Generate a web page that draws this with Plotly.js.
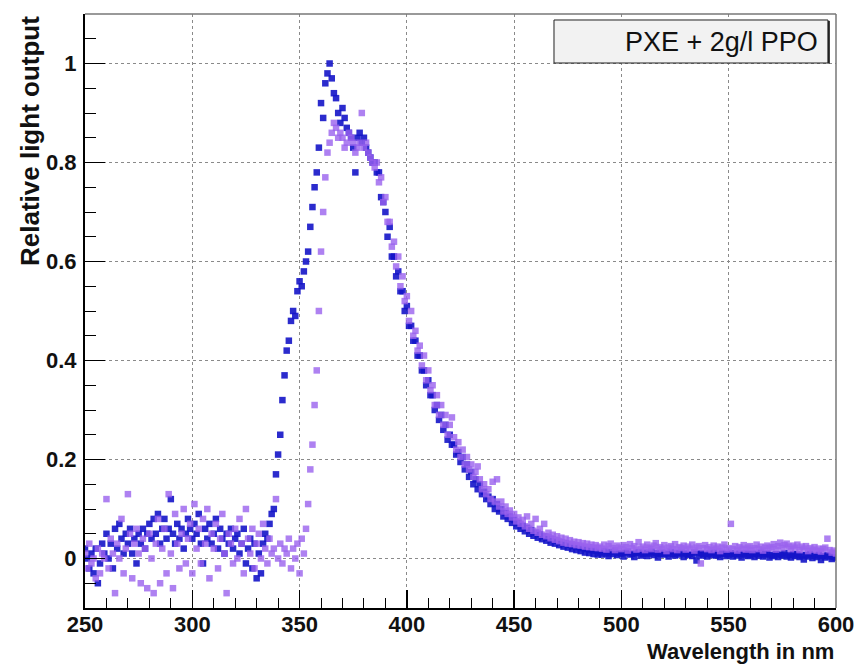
<!DOCTYPE html>
<html>
<head>
<meta charset="utf-8">
<script src="https://cdn.plot.ly/plotly-3.0.1.min.js"></script>
<style>html,body{margin:0;padding:0;background:#fff;}#chart{width:859px;height:667px;}</style>
</head>
<body>
<div id="chart"></div>
<script>
// Wavelength sampling grid (nm): start and step of the measured spectra
const wavelengthStart = 250;
const wavelengthStep = 1;

// Series A (blue): relative light output, one value per nm from 250 to 600
const blueValues = [
  0.02, 0.00, -0.02, 0.01, -0.03, 0.02, -0.05, -0.01, 0.03, 0.01,
  0.05, 0.00, 0.03, -0.02, 0.06, 0.02, 0.07, 0.04, 0.01, 0.05,
  0.03, 0.06, 0.01, 0.04, -0.01, 0.05, 0.03, 0.06, 0.02, 0.05,
  0.07, 0.04, 0.08, 0.05, 0.09, 0.03, 0.06, 0.08, 0.04, 0.06,
  0.12, 0.05, 0.03, 0.07, 0.04, 0.06, 0.02, 0.05, 0.08, 0.06,
  0.04, 0.07, 0.05, 0.09, 0.03, -0.01, 0.06, 0.04, 0.07, 0.03,
  0.05, 0.08, 0.02, 0.06, 0.04, 0.01, 0.05, 0.03, 0.06, 0.02,
  0.04, 0.05, 0.01, 0.03, 0.06, -0.01, 0.02, 0.04, -0.02, 0.03,
  -0.04, 0.01, -0.03, 0.03, 0.05, 0.04, 0.07, 0.09, 0.10, 0.17,
  0.21, 0.25, 0.32, 0.37, 0.42, 0.44, 0.48, 0.50, 0.49, 0.54,
  0.56, 0.55, 0.58, 0.60, 0.62, 0.67, 0.71, 0.75, 0.78, 0.83,
  0.92, 0.89, 0.96, 0.98, 1.00, 0.97, 0.94, 0.93, 0.90, 0.88,
  0.91, 0.89, 0.87, 0.86, 0.85, 0.83, 0.78, 0.85, 0.86, 0.84,
  0.85, 0.83, 0.82, 0.81, 0.80, 0.80, 0.78, 0.78, 0.73, 0.72,
  0.70, 0.65, 0.67, 0.61, 0.61, 0.57, 0.58, 0.54, 0.54, 0.50,
  0.51, 0.47, 0.47, 0.44, 0.44, 0.41, 0.41, 0.38, 0.38, 0.35,
  0.36, 0.33, 0.33, 0.30, 0.31, 0.28, 0.29, 0.26, 0.27, 0.24,
  0.25, 0.23, 0.23, 0.21, 0.215, 0.195, 0.205, 0.18, 0.19, 0.165,
  0.175, 0.15, 0.16, 0.14, 0.15, 0.13, 0.135, 0.12, 0.125, 0.11,
  0.12, 0.10, 0.11, 0.095, 0.10, 0.085, 0.092, 0.08, 0.085, 0.072,
  0.078, 0.065, 0.072, 0.06, 0.066, 0.055, 0.062, 0.05, 0.057, 0.046,
  0.052, 0.042, 0.049, 0.039, 0.045, 0.036, 0.042, 0.032, 0.039, 0.03,
  0.036, 0.027, 0.033, 0.024, 0.031, 0.022, 0.028, 0.019, 0.025, 0.017,
  0.023, 0.015, 0.021, 0.012, 0.019, 0.011, 0.017, 0.009, 0.016, 0.008,
  0.012, 0.008, 0.015, 0.010, 0.005, 0.013, 0.009, 0.016, 0.007, 0.011,
  0.010, 0.004, 0.012, 0.014, 0.008, 0.010, 0.003, 0.011, 0.013, 0.006,
  0.009, 0.012, 0.005, 0.010, 0.014, 0.007, 0.011, 0.002, 0.009, 0.012,
  0.008, 0.010, 0.004, 0.013, 0.009, 0.006, 0.011, 0.008, 0.012, 0.003,
  0.010, 0.007, 0.009, 0.005, 0.012, -0.004, 0.008, 0.011, 0.006, 0.009,
  0.004, 0.010, 0.007, 0.012, 0.006, 0.008, 0.003, 0.011, 0.009, 0.005,
  0.008, 0.011, 0.004, 0.009, 0.006, 0.010, 0.002, 0.008, 0.011, 0.005,
  0.007, 0.010, 0.003, 0.009, 0.006, 0.012, 0.004, 0.008, 0.010, 0.002,
  0.007, 0.005, 0.009, 0.003, 0.008, 0.006, 0.011, 0.004, 0.007, 0.002,
  0.009, 0.005, 0.008, 0.003, 0.006, -0.002, 0.007, 0.004, 0.009, 0.001,
  0.006, 0.003, 0.008, -0.003, 0.005, 0.002, 0.007, 0.004, -0.001, 0.003,
  0.002
];

// Series B (purple): relative light output, one value per nm from 250 to 600
const purpleValues = [
  0.01, -0.02, 0.03, -0.01, 0.00, -0.04, 0.02, -0.03, 0.01, 0.00,
  0.12, -0.02, 0.04, 0.01, -0.07, 0.03, 0.00, 0.08, -0.03, 0.02,
  0.13, 0.05, -0.04, 0.03, 0.06, 0.01, -0.05, 0.04, 0.02, -0.06,
  0.05, 0.00, -0.07, 0.03, 0.08, -0.05, 0.02, 0.06, -0.03, 0.13,
  0.01, -0.06, 0.09, 0.03, -0.02, 0.05, 0.10, -0.01, 0.04, 0.07,
  -0.03, 0.11, 0.02, 0.06, -0.01, 0.08, 0.03, 0.10, -0.04, 0.05,
  0.02, 0.07, -0.02, 0.04, 0.09, 0.01, -0.07, 0.05, 0.03, -0.01,
  0.06, 0.00, 0.08, 0.03, -0.03, 0.10, 0.04, 0.01, 0.06, -0.02,
  0.03, 0.05, 0.00, 0.07, 0.02, -0.01, 0.04, 0.01, 0.02, 0.12,
  0.00, 0.03, -0.01, 0.02, 0.01, 0.04, -0.02, 0.02, 0.00, 0.03,
  -0.03, 0.04, 0.01, 0.06, 0.11, 0.18, 0.23, 0.31, 0.38, 0.50,
  0.62, 0.70, 0.77, 0.82, 0.84, 0.86, 0.88, 0.87, 0.85, 0.86,
  0.85, 0.83, 0.84, 0.86, 0.85, 0.84, 0.82, 0.83, 0.84, 0.90,
  0.83, 0.84, 0.82, 0.81, 0.80, 0.79, 0.80, 0.76, 0.77, 0.72,
  0.73, 0.68, 0.68, 0.63, 0.64, 0.59, 0.61, 0.55, 0.57, 0.52,
  0.53, 0.48, 0.50, 0.45, 0.46, 0.42, 0.43, 0.39, 0.41, 0.36,
  0.38, 0.34, 0.35, 0.31, 0.33, 0.29, 0.31, 0.27, 0.29, 0.25,
  0.27, 0.285, 0.245, 0.22, 0.235, 0.205, 0.22, 0.19, 0.205, 0.18,
  0.19, 0.165, 0.175, 0.186, 0.16, 0.14, 0.15, 0.13, 0.14, 0.12,
  0.155, 0.115, 0.16, 0.105, 0.115, 0.095, 0.105, 0.09, 0.097, 0.083,
  0.09, 0.075, 0.083, 0.07, 0.078, 0.065, 0.085, 0.06, 0.07, 0.056,
  0.08, 0.052, 0.06, 0.048, 0.07, 0.045, 0.052, 0.041, 0.048, 0.038,
  0.045, 0.035, 0.042, 0.032, 0.04, 0.03, 0.037, 0.029, 0.034, 0.027,
  0.033, 0.026, 0.031, 0.024, 0.03, 0.023, 0.028, 0.022, 0.027, 0.021,
  0.024, 0.020, 0.028, 0.018, 0.025, 0.030, 0.021, 0.017, 0.026, 0.022,
  0.019, 0.027, 0.023, 0.016, 0.029, 0.021, 0.025, 0.018, 0.033, 0.020,
  0.024, 0.017, 0.028, 0.022, 0.019, 0.026, 0.031, 0.018, 0.023, 0.020,
  0.027, 0.015, 0.022, 0.025, 0.019, 0.029, 0.017, 0.023, 0.021, 0.026,
  0.018, 0.024, 0.020, 0.028, 0.016, 0.022, 0.025, -0.01, 0.021, 0.027,
  0.019, 0.023, 0.017, 0.026, 0.020, 0.024, 0.015, 0.022, 0.028, 0.018,
  0.021, 0.070, 0.019, 0.025, 0.016, 0.023, 0.020, 0.027, 0.018, 0.022,
  0.025, 0.017, 0.021, 0.028, 0.019, 0.024, 0.016, 0.022, 0.026, 0.020,
  0.023, 0.029, 0.018, 0.025, 0.032, 0.021, 0.027, 0.030, 0.024, 0.019,
  0.026, 0.022, 0.028, 0.017, 0.024, 0.020, 0.025, 0.015, 0.021, 0.018,
  0.023, 0.016, 0.020, 0.014, 0.019, 0.022, 0.040, 0.017, 0.012, 0.016,
  0.010
];

// Axis ticks and texts
const xTickValues = [250, 300, 350, 400, 450, 500, 550, 600];
const yTickValues = [0, 0.2, 0.4, 0.6, 0.8, 1];
const yTickLabels = ['0', '0.2', '0.4', '0.6', '0.8', '1'];
const xTitle = 'Wavelength in nm';
const yTitle = 'Relative light output';
const legendLabel = 'PXE + 2g/l PPO';

const blueX = blueValues.map((_, i) => wavelengthStart + i * wavelengthStep);
const purpleX = purpleValues.map((_, i) => wavelengthStart + i * wavelengthStep);

const font = 'Liberation Sans, Arial, Helvetica, sans-serif';

const traces = [
  {
    type: 'scatter', mode: 'markers', x: blueX, y: blueValues,
    marker: {symbol: 'square', size: 6.5, color: '#1414c8', opacity: 0.9},
    showlegend: false, hoverinfo: 'skip'
  },
  {
    type: 'scatter', mode: 'markers', x: purpleX, y: purpleValues,
    marker: {symbol: 'square', size: 6.5, color: '#9a62ee', opacity: 0.8},
    showlegend: false, hoverinfo: 'skip'
  }
];

const layout = {
  width: 859, height: 667,
  margin: {l: 85, r: 23, t: 14, b: 59},
  paper_bgcolor: '#ffffff', plot_bgcolor: '#ffffff',
  showlegend: false,
  xaxis: {
    range: [250, 600], tickvals: xTickValues, ticktext: xTickValues.map(String),
    ticks: 'inside', ticklen: 18, tickwidth: 1.5, tickcolor: '#000',
    minor: {dtick: 10, ticks: 'inside', ticklen: 10, tickwidth: 1, tickcolor: '#000', showgrid: false},
    showline: true, linecolor: '#000', linewidth: 2,
    showgrid: true, gridcolor: '#8a8a8a', gridwidth: 1, griddash: 'dot',
    zeroline: false,
    tickfont: {family: font, size: 22, color: '#111', weight: 'bold'},
    ticklabelstandoff: -4
  },
  yaxis: {
    range: [-0.1, 1.1], tickvals: yTickValues, ticktext: yTickLabels,
    ticks: 'inside', ticklen: 20, tickwidth: 1.5, tickcolor: '#000',
    minor: {dtick: 0.05, tick0: 0, ticks: 'inside', ticklen: 11, tickwidth: 1, tickcolor: '#000', showgrid: false},
    showline: true, linecolor: '#000', linewidth: 2,
    showgrid: true, gridcolor: '#8a8a8a', gridwidth: 1, griddash: 'dot',
    zeroline: false,
    tickfont: {family: font, size: 22, color: '#111', weight: 'bold'},
    ticklabelstandoff: 2
  },
  shapes: [
    {type: 'line', xref: 'paper', yref: 'paper', x0: 0, x1: 1, y0: 1, y1: 1, line: {color: '#777', width: 1.5}},
    {type: 'line', xref: 'paper', yref: 'paper', x0: 1, x1: 1, y0: 0, y1: 1, line: {color: '#777', width: 1.5}},
    {type: 'rect', xref: 'paper', yref: 'paper', x0: 0.6245, x1: 0.9893, y0: 0.9175, y1: 0.9899,
     fillcolor: '#f2f2f2', line: {color: '#222', width: 1}},
    {type: 'line', xref: 'paper', yref: 'paper', x0: 0.9905, x1: 0.9905, y0: 0.9165, y1: 0.9885, line: {color: '#222', width: 2}}
  ],
  annotations: [
    {text: legendLabel, xref: 'paper', yref: 'paper', x: 0.979, y: 0.9537, xanchor: 'right', yanchor: 'middle',
     showarrow: false, font: {family: font, size: 27, color: '#111'}},
    {text: xTitle, xref: 'paper', yref: 'paper', x: 1.0, y: -0.074, xanchor: 'right', yanchor: 'middle',
     showarrow: false, font: {family: font, size: 22, color: '#111', weight: 'bold'}},
    {text: yTitle, xref: 'paper', yref: 'paper', x: -0.0732, y: 1.0, xanchor: 'center', yanchor: 'top', textangle: -90,
     showarrow: false, font: {family: font, size: 26, color: '#111', weight: 'bold'}}
  ]
};

Plotly.newPlot('chart', traces, layout, {displayModeBar: false, staticPlot: true});
</script>
</body>
</html>
